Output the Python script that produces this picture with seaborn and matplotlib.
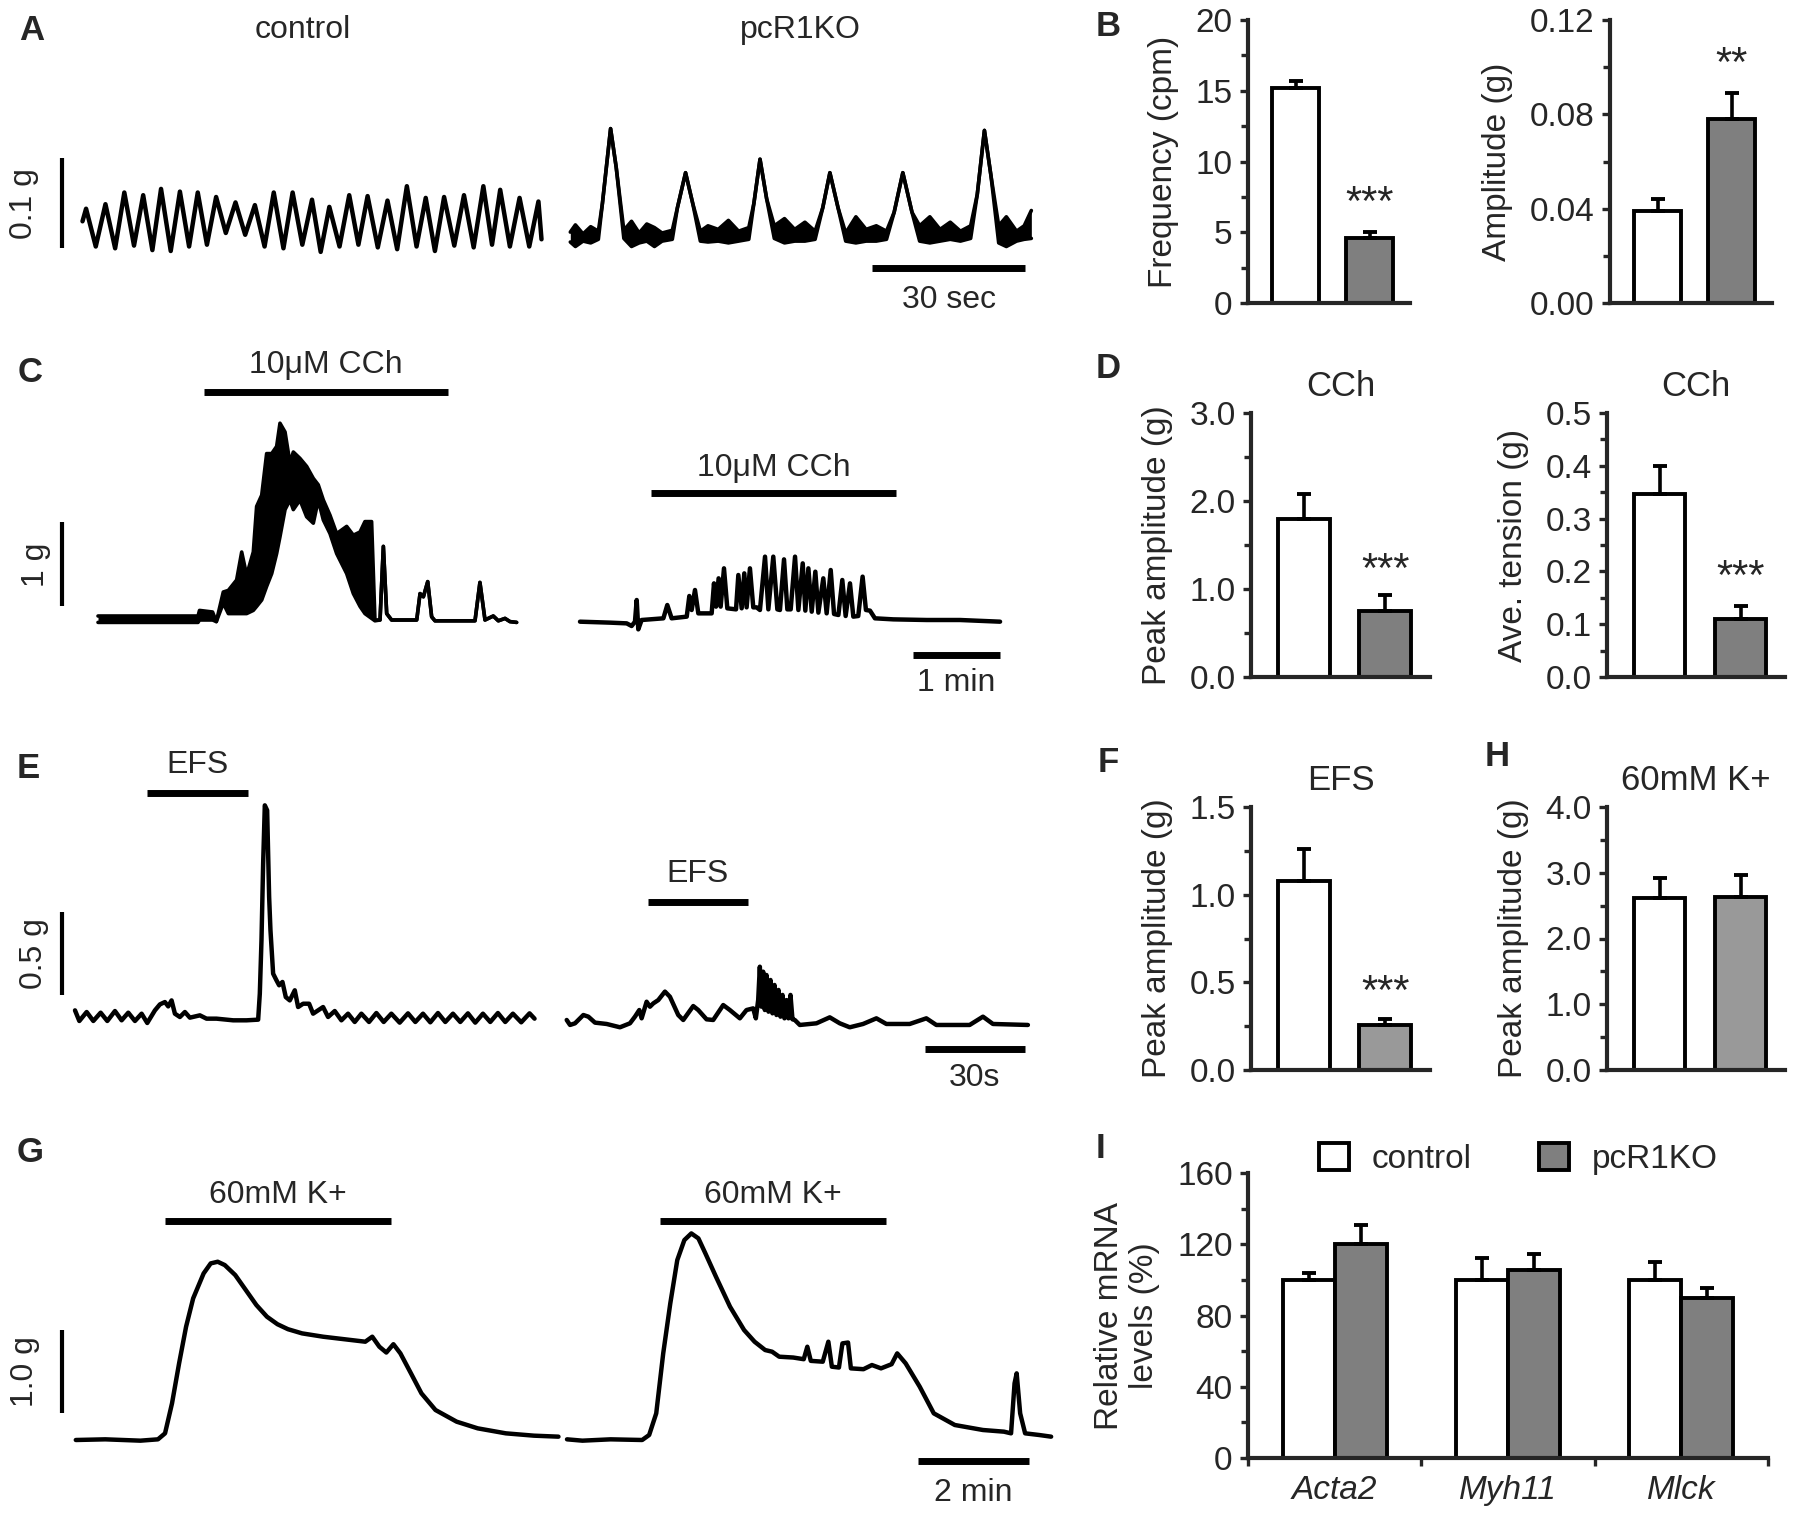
import numpy as np
import pandas as pd
import seaborn as sns
import matplotlib.pyplot as plt
import matplotlib.ticker as ticker
from matplotlib.patches import Patch

# ---------------- bar chart data ----------------
groups = ['control', 'pcR1KO']

freq_mean = [15.2, 4.6]
freq_err = [0.5, 0.45]
amp_mean = [0.039, 0.078]
amp_err = [0.005, 0.011]
cch_peak_mean = [1.79, 0.75]
cch_peak_err = [0.29, 0.18]
cch_tension_mean = [0.347, 0.110]
cch_tension_err = [0.052, 0.024]
efs_peak_mean = [1.08, 0.257]
efs_peak_err = [0.18, 0.036]
k_peak_mean = [2.61, 2.63]
k_peak_err = [0.31, 0.33]

genes = ['Acta2', 'Myh11', 'Mlck']
mrna_ctl = [100, 100, 100]
mrna_ctl_err = [4, 12.4, 10]
mrna_ko = [120.4, 105.4, 89.9]
mrna_ko_err = [10.6, 9.2, 5.6]

# ---------------- trace data (time in s, tension in g) ----------------
# A: spontaneous contractions
a_ctl_t = [0, 0.7, 2.6, 4.5, 6.4, 8.2, 10.1, 11.9, 13.7, 15.4, 17.3, 19.1, 20.9, 22.6, 24.4,
           26.2, 28.1, 30.0, 31.9, 33.8, 35.7, 37.5, 39.4, 41.2, 43.1, 45.0, 46.7, 48.4, 50.4,
           52.3, 54.1, 55.9, 57.9, 59.8, 61.7, 63.6, 65.5, 67.3, 69.1, 70.9, 72.9, 74.8, 76.7,
           78.6, 80.3, 81.9, 83.8, 85.7, 87.6, 89.4, 90.0]
a_ctl_g = [0.030, 0.044, 0.002, 0.049, 0.000, 0.062, 0.003, 0.059, -0.002, 0.066, -0.003, 0.063,
           0.002, 0.062, 0.004, 0.057, 0.017, 0.051, 0.015, 0.048, 0.002, 0.062, 0.000, 0.062,
           0.004, 0.054, -0.004, 0.046, 0.002, 0.059, 0.004, 0.058, 0.001, 0.053, -0.001, 0.069,
           0.002, 0.056, -0.003, 0.057, 0.003, 0.059, 0.001, 0.069, 0.004, 0.065, 0.002, 0.056,
           0.002, 0.052, 0.010]
a_ko_t = [0, 1.0, 2.5, 4.0, 5.5, 6.3, 7.9, 9.0, 10.5, 12.0, 13.5, 15.0, 16.5, 18.0, 20.0, 21.0,
          22.6, 24.0, 25.5, 27.0, 29.0, 31.0, 33.0, 35.0, 36.0, 37.2, 38.5, 40.0, 42.0, 44.0,
          46.0, 48.0, 49.5, 50.9, 52.5, 54.0, 56.0, 58.0, 60.0, 62.0, 63.5, 65.2, 67.0, 68.5,
          70.5, 72.5, 74.5, 76.5, 78.5, 79.8, 81.2, 82.5, 84.0, 85.5, 87.5, 89.0, 90.4]
a_ko_hi = [0.018, 0.026, 0.016, 0.024, 0.019, 0.050, 0.133, 0.090, 0.020, 0.030, 0.017, 0.027,
           0.023, 0.017, 0.020, 0.045, 0.084, 0.050, 0.019, 0.025, 0.021, 0.031, 0.019, 0.023,
           0.050, 0.099, 0.055, 0.025, 0.033, 0.021, 0.029, 0.019, 0.045, 0.084, 0.045, 0.017,
           0.035, 0.021, 0.025, 0.019, 0.040, 0.084, 0.040, 0.025, 0.035, 0.021, 0.029, 0.019,
           0.025, 0.060, 0.131, 0.080, 0.025, 0.035, 0.019, 0.025, 0.042]
a_ko_lo = [0.007, 0.002, 0.008, 0.006, 0.010, 0.050, 0.133, 0.090, 0.011, 0.002, 0.006, 0.008,
           0.002, 0.008, 0.010, 0.045, 0.084, 0.050, 0.008, 0.007, 0.008, 0.006, 0.008, 0.010,
           0.050, 0.099, 0.055, 0.011, 0.006, 0.008, 0.008, 0.010, 0.045, 0.084, 0.045, 0.008,
           0.006, 0.008, 0.008, 0.010, 0.040, 0.084, 0.040, 0.008, 0.006, 0.008, 0.010, 0.008,
           0.011, 0.060, 0.131, 0.080, 0.006, 0.002, 0.008, 0.010, 0.011]

# C: 10 uM carbachol
c_ctl_t = [0, 69, 70, 79, 81.6, 86.4, 89.9, 95.6, 99.1, 102.5, 107.1, 109.4, 112.9, 116.3, 119.8,
           123.2, 125.5, 129.0, 132.4, 134.7, 139.3, 143.9, 148.5, 151.9, 155.4, 160.0, 164.6,
           171.5, 176.1, 180.7, 184.1, 188.7, 191.0, 194.5, 196.8, 199.1, 202.5, 219.8, 222.1,
           224.4, 227.4, 230.1, 232.4, 260.0, 263.4, 266.9, 272.6, 276.1, 280.7, 284.1, 288.7]
c_ctl_hi = [0.05, 0.05, 0.12, 0.10, -0.02, 0.35, 0.37, 0.50, 0.85, 0.56, 0.85, 1.42, 1.56, 2.08,
            2.08, 2.17, 2.46, 2.35, 1.96, 2.10, 2.02, 1.92, 1.77, 1.69, 1.50, 1.31, 1.08, 1.17,
            1.06, 1.10, 1.23, 1.23, 0.0, 0.0, 0.92, 0.08, 0.0, 0.0, 0.33, 0.29, 0.48, 0.04, -0.01,
            -0.01, 0.47, 0.0, 0.05, -0.01, 0.02, -0.02, -0.03]
c_ctl_lo = [-0.03, -0.03, 0.0, 0.0, -0.02, 0.21, 0.08, 0.08, 0.08, 0.08, 0.12, 0.17, 0.25, 0.42,
            0.58, 0.83, 1.04, 1.38, 1.50, 1.38, 1.50, 1.29, 1.21, 1.50, 1.25, 1.08, 0.83, 0.58,
            0.33, 0.17, 0.08, 0.02, -0.01, 0.0, 0.92, 0.08, 0.0, 0.0, 0.33, 0.29, 0.48, 0.04,
            -0.01, -0.01, 0.47, 0.0, 0.05, -0.01, 0.02, -0.02, -0.03]
c_ko_t = [0, 20.7, 32.2, 35.6, 37.9, 39.1, 40.2, 42.5, 57.5, 60.2, 63.2, 73.6, 75.4, 77.0, 79.3,
          81.6, 90.8, 92.4, 93.8, 95.6, 97.0, 99.3, 101.6, 107.6, 109.2, 111.5, 113.3, 114.9,
          117.2, 119.5, 121.8, 124.1, 127.6, 129.9, 133.3, 136.1, 137.9, 140.7, 143.0, 145.3,
          148.3, 150.6, 153.6, 155.4, 157.5, 159.8, 162.3, 164.4, 167.8, 170.1, 172.9, 175.2,
          178.2, 180.9, 183.2, 186.2, 188.5, 191.9, 194.9, 197.2, 200.0, 203.4, 216.1, 239.1,
          262.1, 289.7]
c_ko_g = [0.004, -0.008, -0.017, -0.05, 0.004, 0.275, -0.092, 0.025, 0.046, 0.2125, 0.046, 0.067,
          0.325, 0.15, 0.4, 0.108, 0.108, 0.483, 0.192, 0.546, 0.192, 0.671, 0.171, 0.158, 0.5875,
          0.171, 0.608, 0.183, 0.671, 0.183, 0.183, 0.15, 0.817, 0.158, 0.817, 0.158, 0.15, 0.783,
          0.158, 0.158, 0.817, 0.15, 0.733, 0.142, 0.671, 0.129, 0.629, 0.117, 0.546, 0.108, 0.65,
          0.1, 0.0875, 0.525, 0.075, 0.483, 0.067, 0.075, 0.567, 0.15, 0.142, 0.046, 0.033, 0.025,
          0.025, 0.004]

# E: electrical field stimulation
e_ctl_t = [0, 1.3, 3.5, 5.5, 7.7, 9.7, 12.0, 14.0, 16.0, 18.0, 20.0, 21.7, 24.0, 25.5, 27.0,
           28.0, 29.0, 30.0, 31.5, 33.0, 34.5, 37.5, 39.5, 42.5, 47.5, 51.5, 55.0, 55.5, 56.0,
           56.5, 57.0, 57.7, 58.3, 58.7, 59.5, 60.5, 61.3, 62.3, 63.3, 64.5, 66.0, 67.0, 68.5,
           70.3, 71.5, 73.0, 74.5, 76.0, 78.0, 80.0, 82.0, 84.0, 86.0, 88.3, 90.5, 92.7, 95.0,
           97.5, 100.0, 102.2, 104.5, 106.7, 109.0, 111.2, 113.5, 115.7, 118.0, 120.2, 122.5,
           124.7, 127.0, 129.2, 131.5, 134.0, 136.5, 138.0]
e_ctl_g = [0.040, -0.024, 0.030, -0.024, 0.026, -0.024, 0.036, -0.020, 0.026, -0.024, 0.020,
           -0.036, 0.040, 0.076, 0.090, 0.064, 0.100, 0.020, 0.000, 0.030, -0.004, 0.010, -0.010,
           -0.010, -0.020, -0.020, -0.016, 0.141, 0.462, 0.924, 1.275, 1.245, 0.723, 0.522, 0.261,
           0.221, 0.191, 0.211, 0.120, 0.100, 0.161, 0.060, 0.080, 0.080, 0.020, 0.040, 0.060,
           0.000, 0.036, -0.020, 0.020, -0.030, 0.020, -0.030, 0.024, -0.030, 0.020, -0.034,
           0.022, -0.030, 0.020, -0.032, 0.024, -0.030, 0.020, -0.030, 0.022, -0.034, 0.020,
           -0.030, 0.024, -0.030, 0.020, -0.032, 0.022, -0.010]
e_ko_t = [0, 1, 2.5, 5, 6.5, 8.5, 12, 16, 19, 20.5, 21.8, 22.5, 24, 25, 26, 27.5, 29.5, 31, 33.5,
          35, 38, 39.5, 42, 44, 47, 49, 52, 54, 56, 56.8, 57.5, 58, 58.5, 59, 59.5, 60, 60.6, 61.2,
          61.8, 62.4, 63, 63.6, 64.2, 64.8, 65.4, 66, 66.6, 67.2, 67.8, 68.5, 70, 75, 79, 82, 85,
          89, 93, 96, 103, 108, 111, 121, 125, 128, 138.5]
e_ko_g = [-0.018, -0.048, -0.038, 0.012, 0.002, -0.034, -0.042, -0.062, -0.038, 0.002, 0.042,
          -0.008, 0.092, 0.062, 0.082, 0.102, 0.153, 0.122, 0.012, -0.018, 0.066, 0.042, -0.014,
          -0.018, 0.072, 0.042, -0.008, 0.042, 0.052, -0.008, 0.102, 0.303, 0.062, 0.273, 0.042,
          0.253, 0.032, 0.223, 0.022, 0.193, 0.012, 0.163, 0.002, 0.133, -0.008, 0.102, -0.008,
          0.133, -0.014, -0.018, -0.048, -0.038, -0.002, -0.038, -0.062, -0.042, -0.008, -0.042,
          -0.042, -0.008, -0.048, -0.048, 0.002, -0.042, -0.048]

# G: 60 mM K+
g_ctl_t = [0, 32.1, 70.3, 89.4, 97.1, 104.7, 112.4, 120.0, 127.7, 139.1, 146.8, 154.4, 162.1,
           173.5, 185.0, 196.5, 208.0, 219.4, 230.9, 246.2, 269.1, 292.0, 315.0, 322.6, 330.3,
           337.9, 345.6, 353.2, 364.7, 376.1, 391.4, 414.4, 437.3, 467.9, 498.5, 525.2]
g_ctl_g = [0, 0.008, -0.008, 0.008, 0.08, 0.44, 0.92, 1.36, 1.70, 2.0, 2.12, 2.14, 2.10, 1.98,
           1.80, 1.62, 1.48, 1.39, 1.33, 1.28, 1.24, 1.21, 1.18, 1.24, 1.12, 1.05, 1.15, 1.04,
           0.80, 0.56, 0.36, 0.22, 0.14, 0.08, 0.052, 0.04]
g_ko_t = [0, 16.8, 47.4, 81.8, 89.4, 97.1, 104.7, 112.4, 120.0, 127.7, 135.3, 143.0, 150.6,
          162.1, 177.4, 192.7, 204.1, 215.6, 223.2, 230.9, 246.2, 257.6, 261.5, 265.3, 278.3,
          284.4, 288.2, 295.9, 299.7, 305.8, 308.9, 322.6, 331.8, 341.7, 353.2, 359.3, 368.5,
          383.8, 399.1, 422.0, 452.6, 475.5, 483.2, 487.0, 489.3, 493.1, 498.5, 513.8, 526.8]
g_ko_g = [0.008, -0.008, 0.008, 0, 0.06, 0.32, 1.04, 1.64, 2.16, 2.40, 2.48, 2.42, 2.24, 1.96,
          1.60, 1.32, 1.18, 1.08, 1.06, 1.0, 0.99, 0.97, 1.12, 0.95, 0.94, 1.18, 0.88, 0.87, 1.16,
          1.17, 0.86, 0.85, 0.90, 0.86, 0.91, 1.04, 0.92, 0.64, 0.32, 0.18, 0.12, 0.10, 0.08, 0.68,
          0.80, 0.32, 0.08, 0.06, 0.04]

# ---------------- figure ----------------
sns.set_style('ticks')
plt.rcParams['font.family'] = ['Liberation Sans', 'DejaVu Sans']

W, H = 1800, 1516
fig = plt.figure(figsize=(18, 15.16), dpi=100)
TXT = 23


def px_box(x0, y0, x1, y1):
    return [x0 / W, 1 - y1 / H, (x1 - x0) / W, (y1 - y0) / H]


def ftext(x, y, s, **kw):
    fig.text(x / W, 1 - y / H, s, ha='center', va='center', **kw)


def trace_axes(box, x_left, px_per_s, y_base, px_per_g):
    x0, y0, x1, y1 = box
    ax = fig.add_axes(px_box(*box))
    ax.set_xlim((x0 - x_left) / px_per_s, (x1 - x_left) / px_per_s)
    ax.set_ylim((y_base - y1) / px_per_g, (y_base - y0) / px_per_g)
    ax.set_axis_off()
    return ax


def trace(ax, t, g):
    sns.lineplot(x=t, y=g, ax=ax, color='black', linewidth=3.2, sort=False, estimator=None)
    ax.lines[-1].set_solid_joinstyle('round')


def band(ax, t, lo, hi):
    ax.fill_between(t, lo, hi, color='black', linewidth=0)
    sns.lineplot(x=t, y=hi, ax=ax, color='black', linewidth=2.6, sort=False, estimator=None)
    sns.lineplot(x=t, y=lo, ax=ax, color='black', linewidth=2.6, sort=False, estimator=None)


def hbar(ax, t0, t1, y, text=None, ty=None, lw=5):
    ax.plot([t0, t1], [y, y], color='black', lw=lw, solid_capstyle='butt', clip_on=False)
    if text:
        ax.text((t0 + t1) / 2, ty, text, ha='center', va='center', fontsize=TXT)


def vbar(ax, t, y0, y1, text, tx):
    ax.plot([t, t], [y0, y1], color='black', lw=3, solid_capstyle='butt', clip_on=False)
    ax.text(tx, (y0 + y1) / 2, text, ha='center', va='center', fontsize=TXT, rotation=90)


# A
ax = trace_axes((0, 50, 556, 330), 82.5, 5.1, 248.3, 900)
trace(ax, a_ctl_t, a_ctl_g)
vbar(ax, -4.0, 0.0, 0.1, '0.1 g', -11.5)
ax = trace_axes((556, 50, 1070, 330), 570.3, 5.1, 248.3, 900)
band(ax, a_ko_t, a_ko_lo, a_ko_hi)
hbar(ax, 59.2, 89.2, -0.022, '30 sec', -0.058)
ftext(303, 30, 'control', fontsize=TXT)
ftext(800, 30, 'pcR1KO', fontsize=TXT)

# C
ax = trace_axes((0, 340, 560, 710), 98, 1.45, 620, 80)
band(ax, c_ctl_t, c_ctl_lo, c_ctl_hi)
hbar(ax, 73, 241.7, 2.85, '10\u03bcM CCh', 3.19)
vbar(ax, -24.8, 0.17, 1.22, '1 g', -43)
ax = trace_axes((560, 340, 1070, 710), 580, 1.45, 622, 80)
trace(ax, c_ko_t, c_ko_g)
hbar(ax, 49, 218, 1.61, '10\u03bcM CCh', 1.92)
hbar(ax, 229.7, 289.7, -0.41, '1 min', -0.76)

# E
ax = trace_axes((0, 740, 556, 1100), 75, 3.33, 1017, 166)
trace(ax, e_ctl_t, e_ctl_g)
hbar(ax, 21.7, 52.0, 1.35, 'EFS', 1.52)
vbar(ax, -3.9, 0.13, 0.63, '0.5 g', -12.3)
ax = trace_axes((556, 740, 1070, 1100), 566.7, 3.33, 1017, 166)
trace(ax, e_ko_t, e_ko_g)
hbar(ax, 24.4, 54.4, 0.69, 'EFS', 0.86)
hbar(ax, 107.6, 137.6, -0.19, '30s', -0.37)

# G
ax = trace_axes((0, 1160, 562, 1516), 75.8, 0.919, 1440, 83.3)
trace(ax, g_ctl_t, g_ctl_g)
hbar(ax, 97.1, 343.3, 2.63, '60mM K+', 2.94)
vbar(ax, -15, 0.32, 1.32, '1.0 g', -55.7)
ax = trace_axes((562, 1160, 1070, 1516), 567, 0.919, 1440, 83.3)
trace(ax, g_ko_t, g_ko_g)
hbar(ax, 100.9, 347.1, 2.63, '60mM K+', 2.94)
hbar(ax, 382.3, 502.3, -0.248, '2 min', -0.64)


# ---------------- bar panels ----------------
def style_axis(ax, ylim, major, labels, minor, ylabel, pad=12):
    ax.set_ylim(*ylim)
    ax.set_yticks(major)
    ax.set_yticklabels(labels)
    ax.yaxis.set_minor_locator(ticker.MultipleLocator(minor))
    ax.tick_params(axis='y', which='major', direction='out', length=6, width=2.4, labelsize=24, pad=5)
    ax.tick_params(axis='y', which='minor', direction='out', length=5, width=2.4)
    for side in ['top', 'right']:
        ax.spines[side].set_visible(False)
    for side in ['left', 'bottom']:
        ax.spines[side].set_linewidth(3.0)
    ax.set_ylabel(ylabel, fontsize=24, labelpad=pad)
    ax.set_xlabel('')


def bar_panel(box, means, errs, ko_color, ylim, major, labels, minor, ylabel, title=None, stars=None):
    ax = fig.add_axes(px_box(*box))
    df = pd.DataFrame({'group': groups, 'value': means})
    sns.barplot(data=df, x='group', y='value', hue='group', palette=['white', ko_color],
                edgecolor='black', linewidth=2.8, width=0.64, saturation=1, legend=False, ax=ax)
    ax.errorbar([0, 1], means, yerr=[[0, 0], errs], fmt='none', ecolor='black',
                elinewidth=2.6, capsize=5, capthick=2.8)
    ax.set_xlim(-0.65, 1.55)
    ax.set_xticks([])
    style_axis(ax, ylim, major, labels, minor, ylabel)
    if title:
        ax.set_title(title, fontsize=25, pad=12)
    if stars:
        ax.text(1, stars[1], stars[0], ha='center', va='center', fontsize=30)
    return ax


bar_panel((1248, 20, 1410, 303), freq_mean, freq_err, '#7f7f7f', (0, 20), [0, 5, 10, 15, 20],
          ['0', '5', '10', '15', '20'], 2.5, 'Frequency (cpm)', stars=('***', 7.0))
bar_panel((1610, 20, 1772, 303), amp_mean, amp_err, '#7f7f7f', (0, 0.12), [0, 0.04, 0.08, 0.12],
          ['0.00', '0.04', '0.08', '0.12'], 0.02, 'Amplitude (g)', stars=('**', 0.101))
bar_panel((1251, 413, 1430, 677), cch_peak_mean, cch_peak_err, '#7f7f7f', (0, 3.0),
          [0, 1, 2, 3], ['0.0', '1.0', '2.0', '3.0'], 0.5, 'Peak amplitude (g)',
          title='CCh', stars=('***', 1.2))
bar_panel((1607, 413, 1785, 677), cch_tension_mean, cch_tension_err, '#7f7f7f', (0, 0.5),
          [0, 0.1, 0.2, 0.3, 0.4, 0.5], ['0.0', '0.1', '0.2', '0.3', '0.4', '0.5'], 0.05,
          'Ave. tension (g)', title='CCh', stars=('***', 0.187))
bar_panel((1251, 807, 1430, 1070), efs_peak_mean, efs_peak_err, '#999999', (0, 1.5),
          [0, 0.5, 1.0, 1.5], ['0.0', '0.5', '1.0', '1.5'], 0.25, 'Peak amplitude (g)',
          title='EFS', stars=('***', 0.44))
bar_panel((1607, 807, 1785, 1070), k_peak_mean, k_peak_err, '#999999', (0, 4.0),
          [0, 1, 2, 3, 4], ['0.0', '1.0', '2.0', '3.0', '4.0'], 0.5, 'Peak amplitude (g)',
          title='60mM K+')

# I
ax = fig.add_axes(px_box(1248, 1173, 1768, 1458))
mrna = pd.DataFrame({'gene': genes * 2,
                     'genotype': ['control'] * 3 + ['pcR1KO'] * 3,
                     'value': mrna_ctl + mrna_ko})
sns.barplot(data=mrna, x='gene', y='value', hue='genotype', palette=['white', '#7f7f7f'],
            edgecolor='black', linewidth=2.8, width=0.6, saturation=1, legend=False, ax=ax)
xs = np.arange(len(genes))
ax.errorbar(xs - 0.15, mrna_ctl, yerr=[[0] * 3, mrna_ctl_err], fmt='none', ecolor='black',
            elinewidth=2.6, capsize=5, capthick=2.8)
ax.errorbar(xs + 0.15, mrna_ko, yerr=[[0] * 3, mrna_ko_err], fmt='none', ecolor='black',
            elinewidth=2.6, capsize=5, capthick=2.8)
ax.set_xlim(-0.5, 2.5)
ax.set_xticks(xs)
ax.set_xticklabels(genes, fontsize=24, style='italic')
ax.set_xticks([-0.5, 0.5, 1.5, 2.5], minor=True)
ax.tick_params(axis='x', which='major', length=0, pad=12)
ax.tick_params(axis='x', which='minor', direction='out', length=6, width=2.4)
style_axis(ax, (0, 160), [0, 40, 80, 120, 160], ['0', '40', '80', '120', '160'], 20,
           'Relative mRNA\nlevels (%)', pad=12)
handles = [Patch(facecolor='white', edgecolor='black', linewidth=2.8),
           Patch(facecolor='#7f7f7f', edgecolor='black', linewidth=2.8)]
ax.legend(handles, groups, ncol=2, frameon=False, loc='center', bbox_to_anchor=(0.52, 1.05),
          fontsize=24, handlelength=0.9, handleheight=0.9, columnspacing=2.0, handletextpad=0.7)

# panel letters
for letter, x, y in [('A', 32, 30), ('B', 1108, 27), ('C', 30, 373), ('D', 1108, 368),
                     ('E', 28, 768), ('F', 1108, 762), ('H', 1497, 757), ('G', 30, 1153),
                     ('I', 1100, 1148)]:
    ftext(x, y, letter, fontsize=25, fontweight='bold')

fig.savefig('out.png', dpi=100)
